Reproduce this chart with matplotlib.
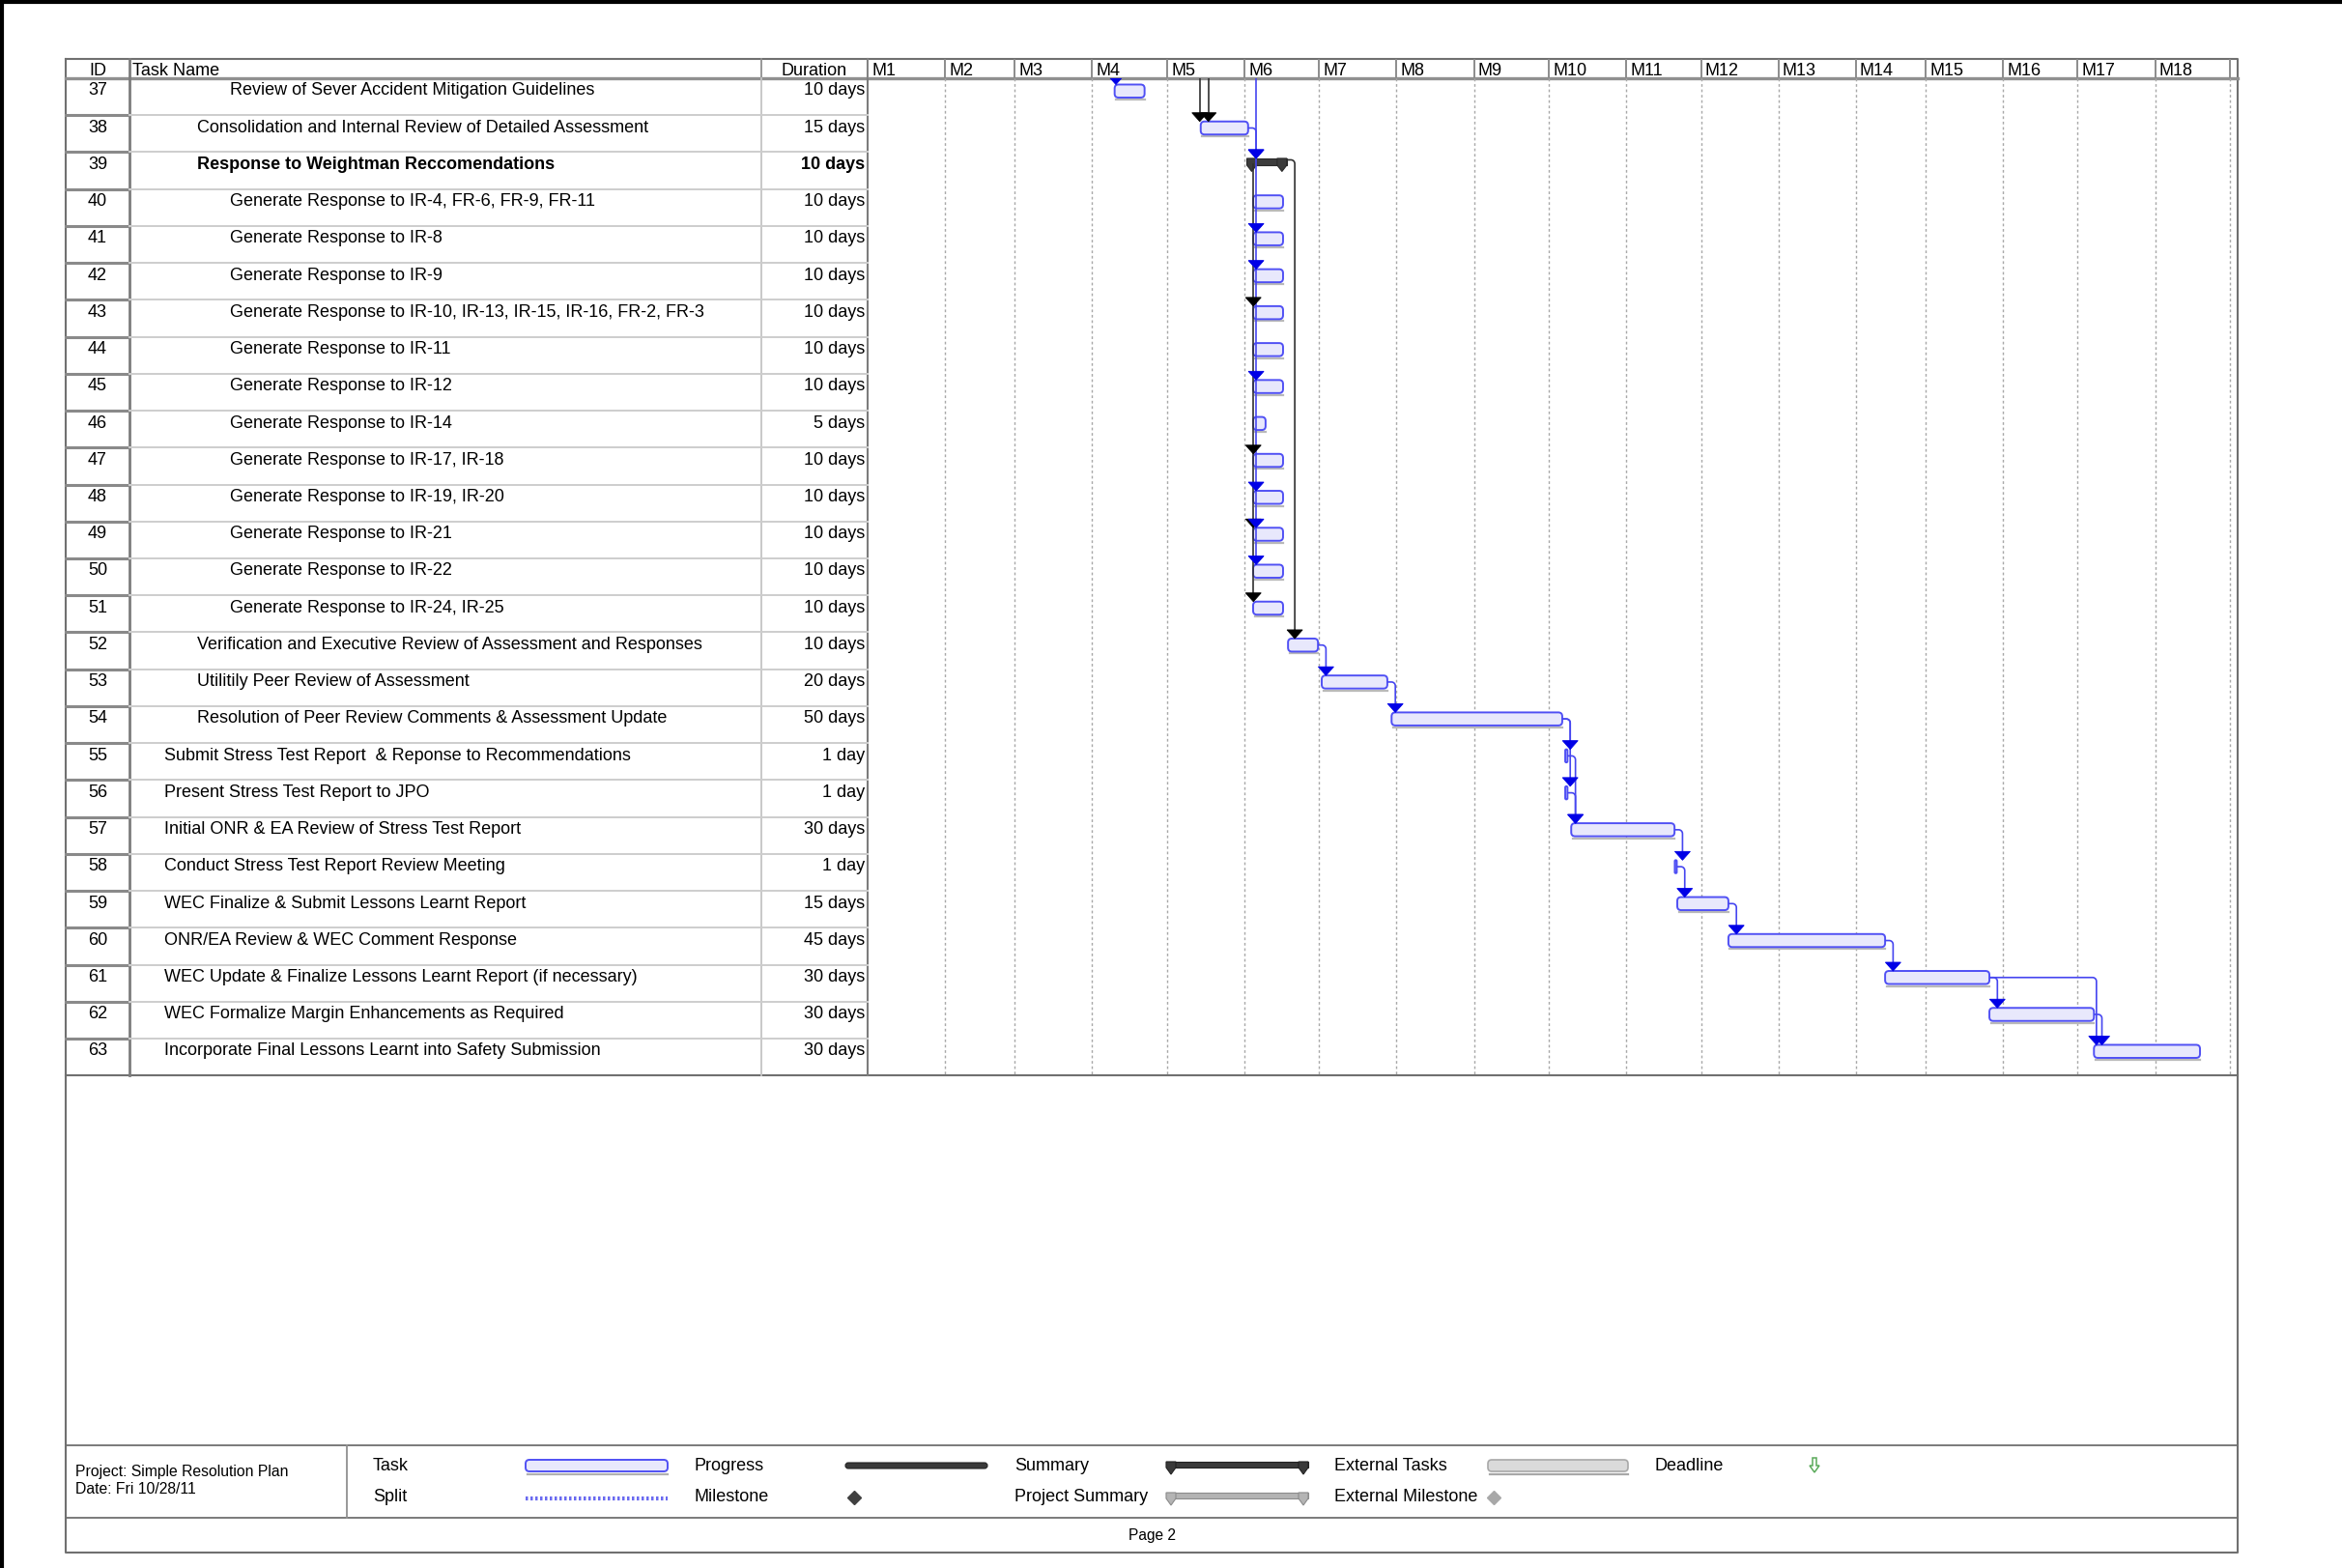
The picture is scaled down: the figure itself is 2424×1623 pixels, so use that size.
import numpy as np
import matplotlib.pyplot as plt
from matplotlib.patches import FancyBboxPatch, Polygon

plt.rcParams['font.family'] = ['Liberation Sans', 'DejaVu Sans']

# ---------------- data ----------------
task_ids = list(range(37, 64))
task_names = [
    "Review of Sever Accident Mitigation Guidelines",
    "Consolidation and Internal Review of Detailed Assessment",
    "Response to Weightman Reccomendations",
    "Generate Response to IR-4, FR-6, FR-9, FR-11",
    "Generate Response to IR-8",
    "Generate Response to IR-9",
    "Generate Response to IR-10, IR-13, IR-15, IR-16, FR-2, FR-3",
    "Generate Response to IR-11",
    "Generate Response to IR-12",
    "Generate Response to IR-14",
    "Generate Response to IR-17, IR-18",
    "Generate Response to IR-19, IR-20",
    "Generate Response to IR-21",
    "Generate Response to IR-22",
    "Generate Response to IR-24, IR-25",
    "Verification and Executive Review of Assessment and Responses",
    "Utilitily Peer Review of Assessment",
    "Resolution of Peer Review Comments & Assessment Update",
    "Submit Stress Test Report  & Reponse to Recommendations",
    "Present Stress Test Report to JPO",
    "Initial ONR & EA Review of Stress Test Report",
    "Conduct Stress Test Report Review Meeting",
    "WEC Finalize & Submit Lessons Learnt Report",
    "ONR/EA Review & WEC Comment Response",
    "WEC Update & Finalize Lessons Learnt Report (if necessary)",
    "WEC Formalize Margin Enhancements as Required",
    "Incorporate Final Lessons Learnt into Safety Submission",
]
outline_level = [3, 2, 2] + [3] * 12 + [2, 2, 2] + [1] * 9
durations = (["10 days", "15 days", "10 days"] + ["10 days"] * 6 + ["5 days"]
             + ["10 days"] * 5
             + ["10 days", "20 days", "50 days", "1 day", "1 day", "30 days",
                "1 day", "15 days", "45 days", "30 days", "30 days", "30 days"])
summary_ids = [39]

# start / finish in calendar days from the start of M1
start_day = [99, 133.5, 152, 154.5, 154.5, 154.5, 154.5, 154.5, 154.5, 154.5,
             154.5, 154.5, 154.5, 154.5, 154.5, 168.5, 182, 210, 279.6, 279.6,
             282, 323.5, 324.5, 345, 407.8, 449.6, 491.5]
finish_day = [111, 152.5, 168, 166.5, 166.5, 166.5, 166.5, 166.5, 166.5, 159.5,
              166.5, 166.5, 166.5, 166.5, 166.5, 180.5, 208.3, 278.4, 280.5, 280.5,
              323.4, 324.3, 345, 407.8, 449.6, 491.5, 534]

month_labels = ["M%d" % i for i in range(1, 19)]
month_days = [31, 28, 31, 30, 31, 30, 31, 31, 30, 31, 30, 31, 31, 28, 31, 30, 31, 30]

# finish-to-start links (predecessor id, successor id, colour)
links = [(38, 39, "blue"), (39, 52, "black"), (52, 53, "blue"), (53, 54, "blue"),
         (54, 55, "blue"), (54, 56, "blue"), (55, 57, "blue"), (56, 57, "blue"),
         (57, 58, "blue"), (58, 59, "blue"), (59, 60, "blue"), (60, 61, "blue"),
         (61, 62, "blue"), (61, 63, "blue"), (62, 63, "blue")]
# links coming from tasks on the previous page (successor id, offset from its start, colour)
incoming = [(37, 0.5, "blue"), (38, -0.4, "black"), (38, 3.1, "black")]
fan_blue_ids = [39, 41, 42, 45, 48, 49, 50]
fan_black_ids = [43, 47, 49, 51]

# ---------------- layout (pixels) ----------------
W, H = 2424, 1624
L, R = 68, 2316
TOP, HDR = 62, 82
ROW_H = 38.23
NROW = len(task_ids)
TBL_BOT = HDR + NROW * ROW_H
X_ID, X_NAME, X_DUR, X_GANTT = 134, 788, 898, 898
GANTT_END = 2308
PX_DAY = (GANTT_END - X_GANTT) / sum(month_days)
XMAX = (R - X_GANTT) / PX_DAY
LEG_TOP, LEG_BOT, PAGE_BOT = 1497, 1572, 1608
indent = {1: 170, 2: 204, 3: 238}

BLUE_LINE = "#4646f0"
BLUE_HEAD = "#0000e6"
BAR_FILL = "#e8e8fc"
BAR_EDGE = "#5050f4"
FS = 13

fig = plt.figure(figsize=(W / 100, H / 100), dpi=100)
page = fig.add_axes([0, 0, 1, 1])
page.set_xlim(0, W)
page.set_ylim(H, 0)
page.axis("off")

# page edge
page.plot([2, 2], [0, H], color="black", lw=3)
page.plot([0, W], [2.5, 2.5], color="black", lw=3)

# frame
frame_c = "#707070"
page.plot([L, R, R, L, L], [TOP, TOP, PAGE_BOT, PAGE_BOT, TOP], color=frame_c, lw=1.5)
page.plot([L, R], [HDR, HDR], color="#909090", lw=2.4)
page.plot([L, R], [TBL_BOT, TBL_BOT], color=frame_c, lw=1.5)
page.plot([L, R], [LEG_TOP, LEG_TOP], color=frame_c, lw=1.3)
page.plot([L, R], [LEG_BOT, LEG_BOT], color=frame_c, lw=1.3)
page.plot([359, 359], [LEG_TOP, LEG_BOT], color="#909090", lw=1.3)

# table column lines
page.plot([X_ID, X_ID], [TOP, TBL_BOT], color="#7c7c7c", lw=2)
page.plot([X_NAME, X_NAME], [TOP, HDR], color="#909090", lw=1.3)
page.plot([X_NAME, X_NAME], [HDR, TBL_BOT], color="#c4c4c4", lw=1.3)
page.plot([X_DUR, X_DUR], [TOP, TBL_BOT], color="#7c7c7c", lw=1.5)

# row separators
for i in range(1, NROW):
    y = HDR + i * ROW_H
    page.plot([L, X_ID], [y, y], color="#8a8a8a", lw=2.2)
    page.plot([X_ID, X_DUR], [y, y], color="#cdcdcd", lw=1.4)

# header text
hy = (TOP + HDR) / 2 + 1
page.text((L + X_ID) / 2, hy, "ID", ha="center", va="center", fontsize=FS)
page.text(X_ID + 3, hy, "Task Name", ha="left", va="center", fontsize=FS)
page.text((X_NAME + X_DUR) / 2, hy, "Duration", ha="center", va="center", fontsize=FS)

# table body text
for i, tid in enumerate(task_ids):
    y = HDR + i * ROW_H + 12
    wt = "bold" if tid in summary_ids else "normal"
    page.text((L + X_ID) / 2, y, str(tid), ha="center", va="center", fontsize=FS)
    page.text(indent[outline_level[i]], y, task_names[i], ha="left", va="center",
              fontsize=FS, fontweight=wt)
    page.text(X_DUR - 3, y, durations[i], ha="right", va="center", fontsize=FS,
              fontweight=wt)

# ---------------- timescale header ----------------
hax = fig.add_axes([X_GANTT / W, 1 - HDR / H, (R - X_GANTT) / W, (HDR - TOP) / H])
hax.set_xlim(0, XMAX)
hax.set_ylim(1, 0)
hax.axis("off")
edges = np.concatenate([[0], np.cumsum(month_days)])
for k, lab in enumerate(month_labels):
    hax.text(edges[k] + 1.6, 0.55, lab, ha="left", va="center", fontsize=FS)
for e in edges:
    hax.plot([e, e], [0, 1], color="#8c8c8c", lw=1.4)

# ---------------- gantt area ----------------
gax = fig.add_axes([X_GANTT / W, 1 - TBL_BOT / H, (R - X_GANTT) / W, (TBL_BOT - HDR) / H])
gax.set_xlim(0, XMAX)
gax.set_ylim(NROW, 0)
gax.axis("off")

for e in edges[1:]:
    gax.plot([e, e], [0, NROW], color="#a8a8a8", lw=1.0, ls=(0, (2, 2)))

d_px = 1 / PX_DAY           # days per pixel
r_px = 1 / ROW_H            # rows per pixel
BAR_T, BAR_B = 6.5 * r_px, 20 * r_px
HEAD_W, HEAD_H = 8 * d_px, 9 * r_px
aspect = PX_DAY / ROW_H

row_of = {tid: i for i, tid in enumerate(task_ids)}


def arrow_head(x, row, color):
    tip = row + BAR_T
    gax.add_patch(Polygon([[x - HEAD_W, tip - HEAD_H], [x + HEAD_W, tip - HEAD_H], [x, tip]],
                          closed=True, facecolor=color, edgecolor=color, lw=0.6, zorder=6))


def link_path(x0, y0, vx, y1, color):
    rx, ry = 4 * d_px, 4 * r_px
    if vx - x0 < rx:
        rx = max(vx - x0, 0.01)
    ang = np.linspace(np.pi / 2, 0, 8)
    ax_ = vx - rx + rx * np.cos(ang)
    ay_ = y0 + ry - ry * np.sin(ang)
    xs = np.concatenate([[x0], ax_, [vx]])
    ys = np.concatenate([[y0], ay_, [y1]])
    gax.plot(xs, ys, color=color, lw=1.2, zorder=4, solid_capstyle="butt")


# bars
for i, tid in enumerate(task_ids):
    s, f = start_day[i], finish_day[i]
    if tid in summary_ids:
        body_t, body_b = i + 6.5 * r_px, i + 13.5 * r_px
        gax.add_patch(FancyBboxPatch((s, body_t), f - s, body_b - body_t,
                                     boxstyle="square,pad=0", facecolor="#3c3c3c",
                                     edgecolor="#2a2a2a", lw=0.8, zorder=3))
        cw = 10 * d_px
        for cx in (s, f - cw):
            gax.add_patch(Polygon([[cx, body_t], [cx + cw, body_t], [cx + cw, body_b],
                                   [cx + cw / 2, i + 20 * r_px], [cx, body_b]],
                                  closed=True, facecolor="#3c3c3c", edgecolor="#2a2a2a",
                                  lw=0.8, zorder=3))
        continue
    w = f - s
    rs = min(4 * d_px, w / 2)
    gax.plot([s + 0.6, f], [i + 22 * r_px, i + 22 * r_px], color="#b9b9b9", lw=1.6, zorder=2)
    gax.add_patch(FancyBboxPatch((s, i + BAR_T), w, BAR_B - BAR_T,
                                 boxstyle="round,pad=0,rounding_size=%f" % rs,
                                 mutation_aspect=aspect, facecolor=BAR_FILL,
                                 edgecolor=BAR_EDGE, lw=1.4, zorder=3))

STUB, OFFS = 3.2, 1.0
link_colors = {"blue": (BLUE_LINE, BLUE_HEAD), "black": ("#303030", "black")}
for p, q, c in links:
    ip, iq = row_of[p], row_of[q]
    lc, hc = link_colors[c]
    vx = max(finish_day[ip] + STUB, start_day[iq] + OFFS)
    y0 = ip + (BAR_T + BAR_B) / 2
    if p in summary_ids:
        y0 = ip + 8 * r_px
    link_path(finish_day[ip], y0, vx, iq + BAR_T - HEAD_H + 0.02, lc)
    arrow_head(vx, iq, hc)

for q, off, c in incoming:
    iq = row_of[q]
    lc, hc = link_colors[c]
    x = start_day[iq] + off
    gax.plot([x, x], [0, iq + BAR_T - HEAD_H + 0.02], color=lc, lw=1.2, zorder=4)
    arrow_head(x, iq, hc)

# fan of links into the response tasks
blue_x = finish_day[row_of[38]] + STUB
black_x = start_day[row_of[40]] + 0.1
last_black = row_of[max(fan_black_ids)]
gax.plot([black_x, black_x], [row_of[39] + 13 * r_px, last_black + BAR_T - HEAD_H + 0.02],
         color="#303030", lw=1.2, zorder=4)
last_blue = row_of[max(fan_blue_ids)]
gax.plot([blue_x, blue_x], [0, last_blue + BAR_T - HEAD_H + 0.02], color=BLUE_LINE,
         lw=1.2, zorder=4)
for tid in fan_black_ids:
    arrow_head(black_x, row_of[tid], "black")
for tid in fan_blue_ids:
    arrow_head(blue_x, row_of[tid], BLUE_HEAD)

# ---------------- legend ----------------
LY1, LY2 = 1518, 1550
LFS = 13
page.text(78, 1524, "Project: Simple Resolution Plan", ha="left", va="center", fontsize=11.3)
page.text(78, 1542, "Date: Fri 10/28/11", ha="left", va="center", fontsize=11.3)

leg_row1 = ["Task", "Progress", "Summary", "External Tasks", "Deadline"]
leg_row2 = ["Split", "Milestone", "Project Summary", "External Milestone"]
leg_x = [386, 719, 1050, 1381, 1713]
for lab, x in zip(leg_row1, leg_x):
    page.text(x, LY1, lab, ha="left", va="center", fontsize=LFS)
for lab, x in zip(leg_row2, leg_x):
    page.text(x, LY2, lab, ha="left", va="center", fontsize=LFS)

sw = [544, 691]
# Task swatch
page.plot([sw[0] + 2, sw[1]], [LY1 + 9, LY1 + 9], color="#b0b0b0", lw=1.6)
page.add_patch(FancyBboxPatch((sw[0], LY1 - 6), sw[1] - sw[0], 12,
                              boxstyle="round,pad=0,rounding_size=4",
                              facecolor=BAR_FILL, edgecolor=BAR_EDGE, lw=1.4))
# Split swatch
page.plot(sw, [LY2 + 2, LY2 + 2], color="#6a6af0", lw=3, ls=(0, (0.6, 0.6)))
# Progress swatch
page.add_patch(FancyBboxPatch((875, LY1 - 3), 147, 6, boxstyle="round,pad=0,rounding_size=3",
                              facecolor="#3a3a3a", edgecolor="#222222", lw=0.8))
# Milestone
page.plot([884], [LY2 + 1], marker="D", ms=7, color="#404040")


def legend_summary(x0, x1, y, fc, ec):
    page.add_patch(FancyBboxPatch((x0, y - 4), x1 - x0, 6, boxstyle="square,pad=0",
                                  facecolor=fc, edgecolor=ec, lw=0.8))
    cw = 10
    for cx in (x0, x1 - cw):
        page.add_patch(Polygon([[cx, y - 4], [cx + cw, y - 4], [cx + cw, y + 2],
                                [cx + cw / 2, y + 9], [cx, y + 2]], closed=True,
                               facecolor=fc, edgecolor=ec, lw=0.8))


legend_summary(1207, 1354, LY1, "#3a3a3a", "#222222")
legend_summary(1207, 1354, LY2, "#b4b4b4", "#8c8c8c")
# External tasks
page.plot([1542, 1685], [LY1 + 9, LY1 + 9], color="#a8a8a8", lw=1.6)
page.add_patch(FancyBboxPatch((1540, LY1 - 6), 145, 12, boxstyle="round,pad=0,rounding_size=4",
                              facecolor="#dadada", edgecolor="#a8a8a8", lw=1.2))
# External milestone
page.plot([1546], [LY2 + 1], marker="D", ms=7, color="#a8a8a8")
# Deadline arrow
gx, gy = 1878, LY1
page.add_patch(Polygon([[gx - 2, gy - 8], [gx + 2, gy - 8], [gx + 2, gy], [gx + 5, gy],
                        [gx, gy + 7], [gx - 5, gy], [gx - 2, gy]], closed=True,
                       facecolor="white", edgecolor="#5aaa5a", lw=1.1))

page.text(1192, 1590, "Page 2", ha="center", va="center", fontsize=11.2)

fig.savefig("out.png", dpi=100)
